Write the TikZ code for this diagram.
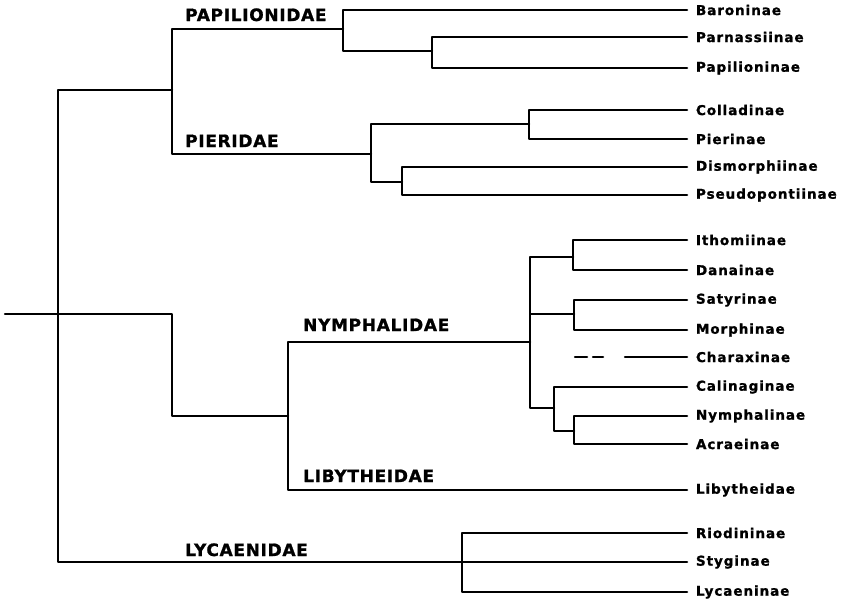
\documentclass[tikz,border=0pt]{standalone}
\usepackage{fontspec}
\usepackage{tikz}
\setmainfont{DejaVu Sans}
\newfontfamily\cladefont[LetterSpace=4,FakeBold=1.2]{DejaVu Sans}
\newfontfamily\taxonfont[LetterSpace=7,FakeBold=1.2]{DejaVu Sans}

\begin{document}
\begin{tikzpicture}[
      x=1pt, y=-1pt,
      leaf/.style={anchor=west, inner xsep=9pt, inner ysep=0pt, outer sep=0pt, font=\taxonfont\bfseries\fontsize{13.5}{15}\selectfont},
      fam/.style={anchor=base west, inner sep=0pt, font=\cladefont\bfseries\fontsize{17}{19}\selectfont},
      branch/.style={line width=2.5pt, line cap=round, line join=round}
    ]
      \useasboundingbox (0,0) rectangle (859,605);
      % subfamilies
      \node[leaf] (bar) at (687,10) {Baroninae};
      \node[leaf] (par) at (687,37) {Parnassiinae};
      \node[leaf] (papi) at (687,68) {Papilioninae};
      \node[leaf] (col) at (687,110) {Colladinae};
      \node[leaf] (pier) at (687,139) {Pierinae};
      \node[leaf] (dis) at (687,167) {Dismorphiinae};
      \node[leaf] (pse) at (687,195) {Pseudopontiinae};
      \node[leaf] (ith) at (687,240) {Ithomiinae};
      \node[leaf] (dan) at (687,270) {Danainae};
      \node[leaf] (sat) at (687,300) {Satyrinae};
      \node[leaf] (mor) at (687,330) {Morphinae};
      \node[leaf] (cha) at (687,357) {Charaxinae};
      \node[leaf] (cal) at (687,387) {Calinaginae};
      \node[leaf] (nyn) at (687,416) {Nymphalinae};
      \node[leaf] (acr) at (687,444) {Acraeinae};
      \node[leaf] (lib) at (687,490) {Libytheidae};
      \node[leaf] (rio) at (687,533) {Riodininae};
      \node[leaf] (sty) at (687,562) {Styginae};
      \node[leaf] (lyn) at (687,592) {Lycaeninae};
      % families
      \node[fam] (papilionidae) at (185,21) {PAPILIONIDAE};
      \node[fam] (pieridae) at (185,147) {PIERIDAE};
      \node[fam] (nymphalidae) at (303,331) {NYMPHALIDAE};
      \node[fam] (libytheidae) at (303,482) {LIBYTHEIDAE};
      \node[fam] (lycaenidae) at (185,556) {LYCAENIDAE};
      % branch points
      \coordinate (stem) at (5,314);
      \coordinate (root) at (58,314);
      \coordinate (bend) at (172,314);
      \coordinate (papPie) at (172,90);
      \coordinate (pap) at (343,29);
      \coordinate (parPap) at (432,51);
      \coordinate (pie) at (371,154);
      \coordinate (colPie) at (529,124);
      \coordinate (disPse) at (402,182);
      \coordinate (nymLib) at (288,416);
      \coordinate (nym) at (530,342);
      \coordinate (ithDan) at (573,257);
      \coordinate (satMor) at (574,314);
      \coordinate (calNym) at (554,408);
      \coordinate (nynAcr) at (574,431);
      \coordinate (chaTail) at (575,357);
      \coordinate (lyc) at (462,562);
      % tree
      \draw[branch] (stem) -- (root);
      \draw[branch] (root) |- (papPie);
      \draw[branch] (root) -- (bend) |- (nymLib);
      \draw[branch] (root) |- (lyc);
      \draw[branch] (papPie) |- (pap);
      \draw[branch] (papPie) |- (pie);
      \draw[branch] (pap) |- (bar.west);
      \draw[branch] (pap) |- (parPap);
      \draw[branch] (parPap) |- (par.west);
      \draw[branch] (parPap) |- (papi.west);
      \draw[branch] (pie) |- (colPie);
      \draw[branch] (pie) |- (disPse);
      \draw[branch] (colPie) |- (col.west);
      \draw[branch] (colPie) |- (pier.west);
      \draw[branch] (disPse) |- (dis.west);
      \draw[branch] (disPse) |- (pse.west);
      \draw[branch] (nymLib) |- (nym);
      \draw[branch] (nymLib) |- (lib.west);
      \draw[branch] (nym) |- (ithDan);
      \draw[branch] (nym) |- (satMor);
      \draw[branch] (nym) |- (calNym);
      \draw[branch] (ithDan) |- (ith.west);
      \draw[branch] (ithDan) |- (dan.west);
      \draw[branch] (satMor) |- (sat.west);
      \draw[branch] (satMor) |- (mor.west);
      \draw[branch] (calNym) |- (cal.west);
      \draw[branch] (calNym) |- (nynAcr);
      \draw[branch] (nynAcr) |- (nyn.west);
      \draw[branch] (nynAcr) |- (acr.west);
      \draw[branch, dash pattern=on 12pt off 6pt on 10pt off 22pt on 100pt] (chaTail) -- (cha.west);
      \draw[branch] (lyc) |- (rio.west);
      \draw[branch] (lyc) |- (sty.west);
      \draw[branch] (lyc) |- (lyn.west);
    \end{tikzpicture}
\end{document}
